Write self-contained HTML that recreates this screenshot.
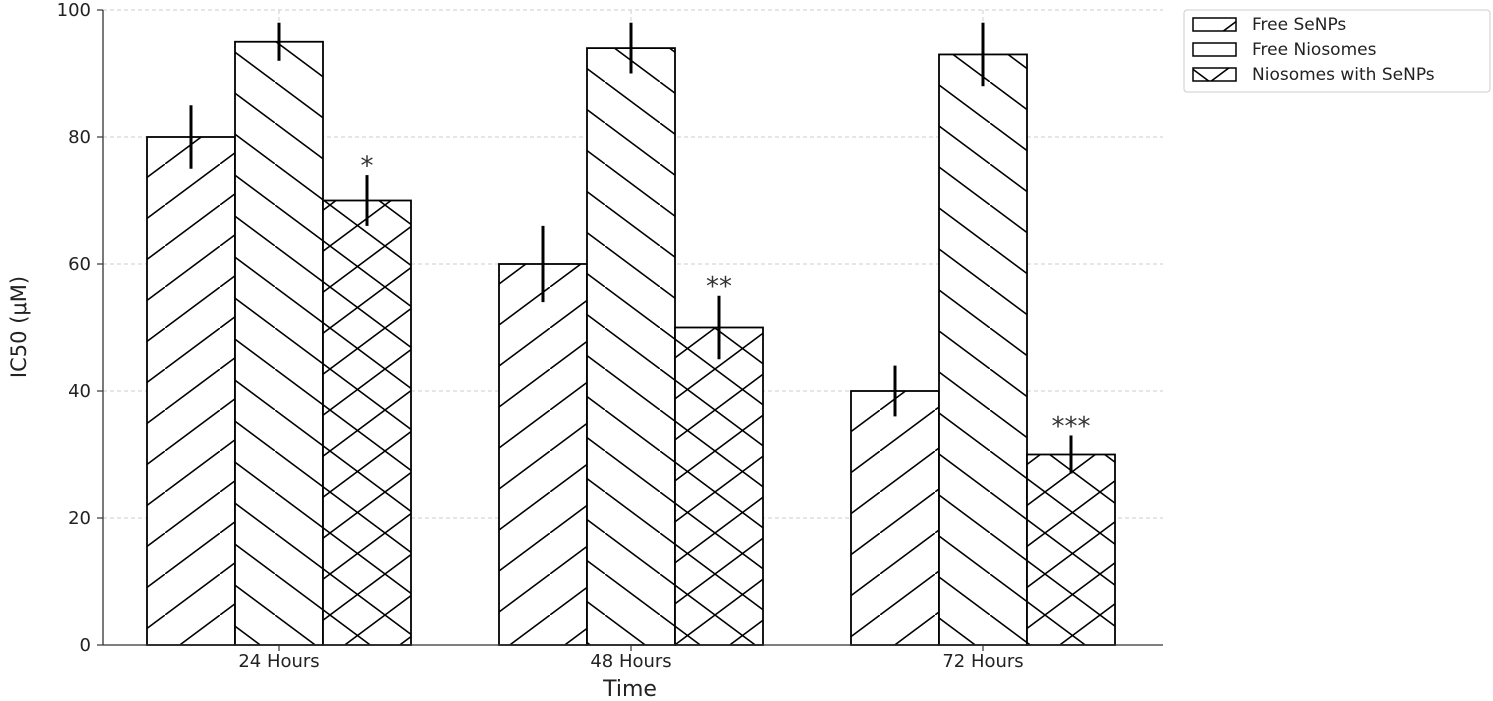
<!DOCTYPE html>
<html><head><meta charset="utf-8"><style>
body{margin:0;background:#fff;}
svg{display:block;font-family:"DejaVu Sans","Liberation Sans",sans-serif;}
</style></head><body>
<svg id="chart" width="1493" height="701">
<defs>
<pattern id="hFwd" patternUnits="userSpaceOnUse" width="55" height="41">
<line x1="-5" y1="44.7" x2="60" y2="-3.7" stroke="#000" stroke-width="1.6"/>
</pattern>
<pattern id="hBack" patternUnits="userSpaceOnUse" width="55" height="41">
<line x1="-5" y1="-3.7" x2="60" y2="44.7" stroke="#000" stroke-width="1.6"/>
</pattern>
<pattern id="hCross" patternUnits="userSpaceOnUse" width="55" height="41">
<line x1="-5" y1="44.7" x2="60" y2="-3.7" stroke="#000" stroke-width="1.6"/>
<line x1="-5" y1="-3.7" x2="60" y2="44.7" stroke="#000" stroke-width="1.6"/>
</pattern>
</defs>
<g id="grid"></g>
<g id="bars"></g>
<g id="axes"></g>
<text x="630" y="696" text-anchor="middle" font-size="22" fill="#222">Time</text>
<text transform="translate(26,327) rotate(-90)" text-anchor="middle" font-size="21" fill="#222">IC50 (μM)</text>
<g>
<rect x="1184" y="10" width="306" height="82" rx="3" fill="#fff" stroke="#ccc"/>
<rect x="1193" y="18" width="43" height="13" fill="url(#hFwd)" stroke="#000" stroke-width="1.5"/>
<text x="1252" y="30" font-size="17" fill="#222">Free SeNPs</text>
<rect x="1193" y="43" width="43" height="13" fill="#fff" stroke="#000" stroke-width="1.5"/>
<text x="1252" y="55" font-size="17" fill="#222">Free Niosomes</text>
<rect x="1193" y="68" width="43" height="13" fill="url(#hCross)" stroke="#000" stroke-width="1.5"/>
<text x="1252" y="80" font-size="17" fill="#222">Niosomes with SeNPs</text>
</g>
</svg>
<script>
const categories = ["24 Hours","48 Hours","72 Hours"];
const seriesNames = ["Free SeNPs","Free Niosomes","Niosomes with SeNPs"];
const freeSeNPs = [80,60,40];
const freeNiosomes = [95,94,93];
const niosomesSeNPs = [70,50,30];
const errSeNPs = [5,6,4];
const errNiosomes = [3,4,5];
const errCombo = [4,5,3];
const significance = ["*","**","***"];
const yTicks = [0,20,40,60,80,100];

const NS="http://www.w3.org/2000/svg";
const plotLeft=103,plotRight=1163,plotTop=10,plotBottom=645;
const yMax=100;
function y(v){return plotBottom-(v/yMax)*(plotBottom-plotTop);}
const groupW=352;
function xc(i){return 279+i*groupW;}
const barW=groupW*0.25;
function mk(tag,attrs,parent){const e=document.createElementNS(NS,tag);for(const k in attrs)e.setAttribute(k,attrs[k]);parent.appendChild(e);return e;}
const grid=document.getElementById('grid'),bars=document.getElementById('bars'),axes=document.getElementById('axes');
yTicks.forEach(t=>{
 const l=mk('line',{x1:plotLeft,x2:plotRight,y1:y(t),y2:y(t),stroke:'#ccc','stroke-dasharray':'4,3','stroke-width':1},grid);
 
 
 const tk=mk('line',{x1:plotLeft-6,x2:plotLeft,y1:y(t),y2:y(t),stroke:'#333','stroke-width':1.2},axes);
 
 
 const tx=mk('text',{x:plotLeft-12,y:y(t)+6,'text-anchor':'end','font-size':18,fill:'#222'},axes);
 tx.textContent=t;
 
 
});
categories.forEach((c,i)=>{
 const l=mk('line',{x1:xc(i),x2:xc(i),y1:plotTop,y2:plotBottom,stroke:'#ccc','stroke-dasharray':'4,3','stroke-width':1},grid);
 
 
 const tk=mk('line',{x1:xc(i),x2:xc(i),y1:plotBottom,y2:plotBottom+6,stroke:'#333','stroke-width':1.2},axes);
 
 
 const tx=mk('text',{x:xc(i),y:plotBottom+22,'text-anchor':'middle','font-size':18,fill:'#222'},axes);
 tx.textContent=c;
 
 
});
const series=[[freeSeNPs,errSeNPs,'url(#hFwd)','free-senps'],[freeNiosomes,errNiosomes,'url(#hBack)','free-niosomes'],[niosomesSeNPs,errCombo,'url(#hCross)','niosomes-with-senps']];
series.forEach((s,si)=>{
 s[0].forEach((v,i)=>{
  const x0=xc(i)+(si-1.5)*barW;
  const r=mk('rect',{x:x0,y:y(v),width:barW,height:plotBottom-y(v),fill:'#fff',stroke:'none'},bars);
  
  
  const b=mk('rect',{x:x0,y:y(v),width:barW,height:plotBottom-y(v),fill:s[2],stroke:'#000','stroke-width':1.8},bars);
  
  
  const e=mk('line',{x1:x0+barW/2,x2:x0+barW/2,y1:y(v+s[1][i]),y2:y(v-s[1][i]),stroke:'#000','stroke-width':3},bars);
  
  
  if(si===2){
   const t=mk('text',{x:x0+barW/2,y:y(v+s[1][i]+2)+12,'text-anchor':'middle','font-size':26,fill:'#333'},bars);
   t.textContent=significance[i];
   
   
  }
 });
});
const ls=mk('line',{x1:plotLeft,x2:plotLeft,y1:plotTop,y2:plotBottom,stroke:'#333','stroke-width':1.3},axes);


const bs=mk('line',{x1:plotLeft,x2:plotRight,y1:plotBottom,y2:plotBottom,stroke:'#333','stroke-width':1.3},axes);


</script>
</body></html>
